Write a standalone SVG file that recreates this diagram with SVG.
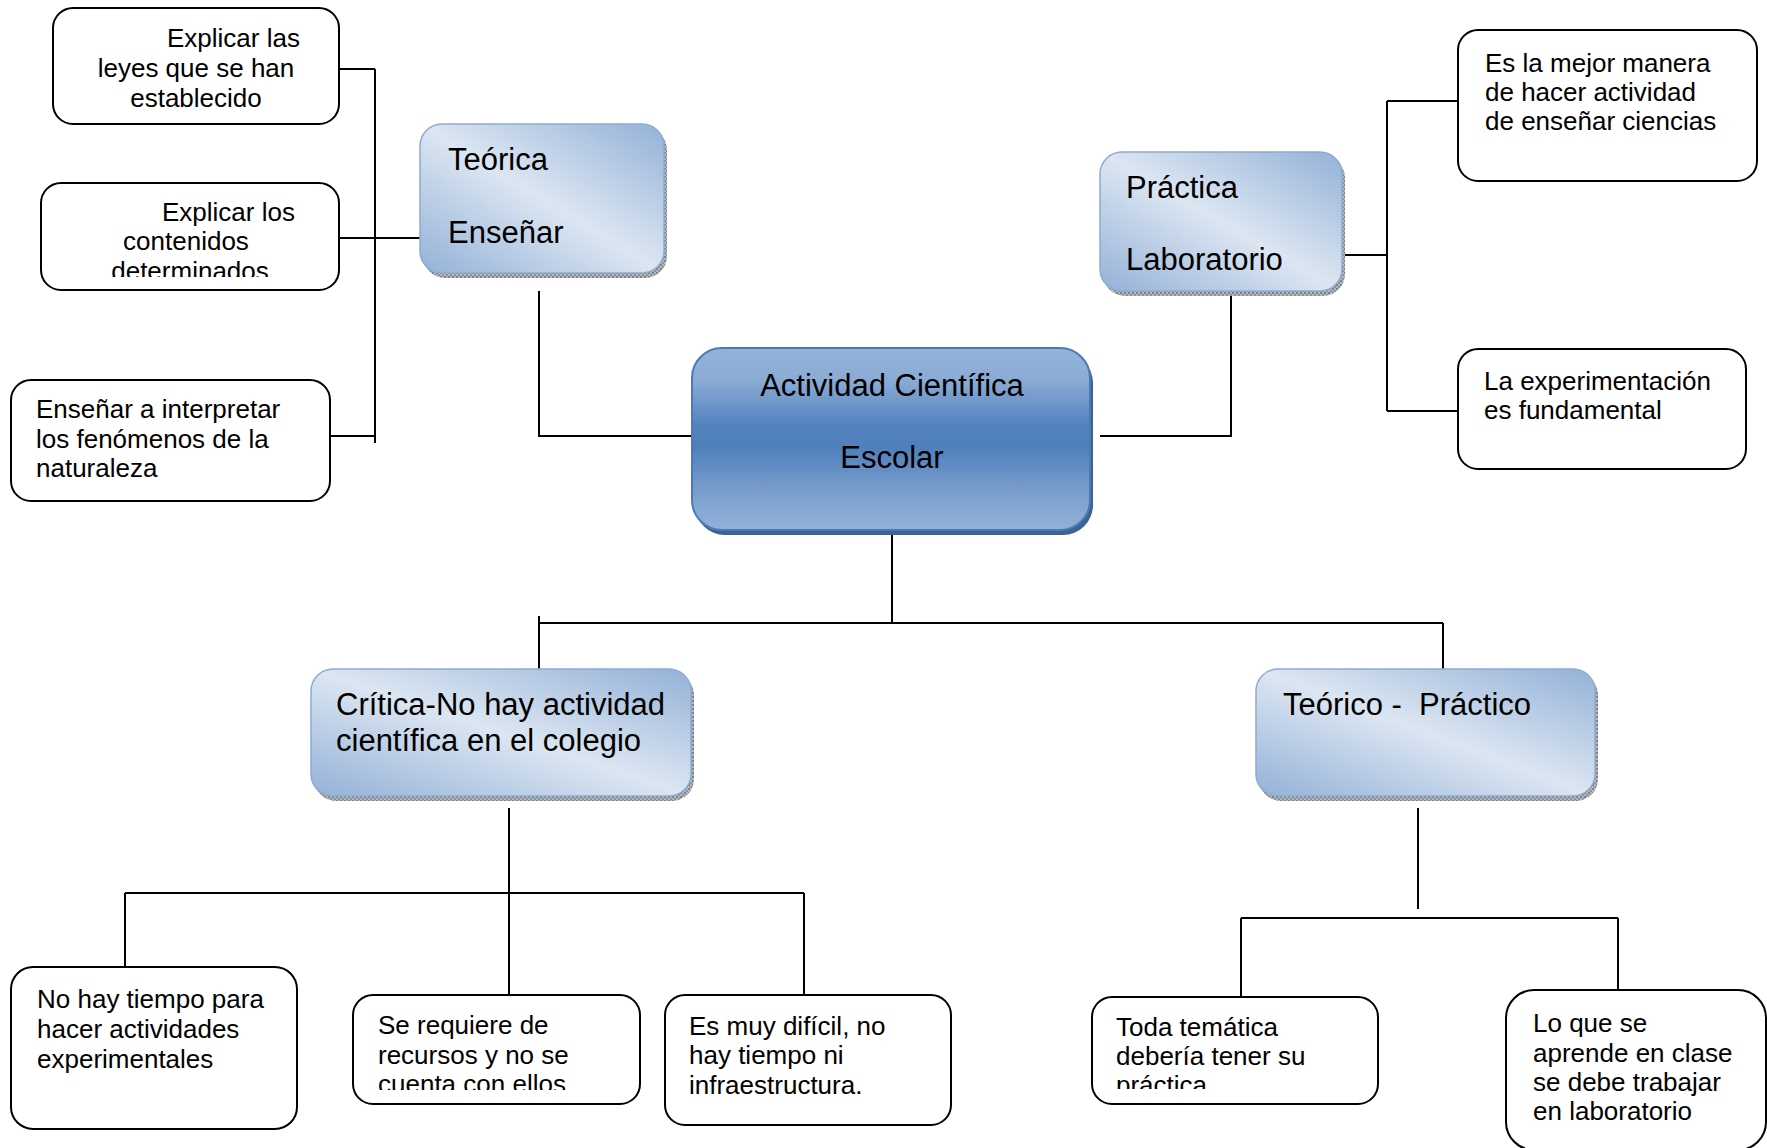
<svg xmlns="http://www.w3.org/2000/svg" width="1767" height="1148" viewBox="0 0 1767 1148">
  <defs>
    <linearGradient id="soft" x1="0" y1="1" x2="1" y2="0">
      <stop offset="0" stop-color="#93b1d7"/>
      <stop offset="0.5" stop-color="#dce6f2"/>
      <stop offset="1" stop-color="#93b1d7"/>
    </linearGradient>
    <linearGradient id="deep" x1="0" y1="0" x2="0" y2="1">
      <stop offset="0" stop-color="#95b3d9"/>
      <stop offset="0.18" stop-color="#8aabd4"/>
      <stop offset="0.42" stop-color="#5383bf"/>
      <stop offset="0.55" stop-color="#4f80bc"/>
      <stop offset="0.78" stop-color="#799dcc"/>
      <stop offset="1" stop-color="#93b1d8"/>
    </linearGradient>
    <pattern id="hatch" width="4" height="4" patternUnits="userSpaceOnUse">
      <rect width="4" height="4" fill="#b4b8bd"/>
      <rect width="2" height="2" fill="#7d8289"/>
      <rect x="2" y="2" width="2" height="2" fill="#8d9299"/>
    </pattern>
    <clipPath id="clipB"><rect x="41" y="183" width="298" height="94"/></clipPath>
    <clipPath id="clipF2"><rect x="353" y="995" width="287" height="95"/></clipPath>
    <clipPath id="clipG1"><rect x="1092" y="997" width="286" height="92"/></clipPath>
  </defs>
  <style>
    .box { fill: #ffffff; stroke: #000000; stroke-width: 2; }
    .soft { fill: url(#soft); stroke: #8eabd3; stroke-width: 1.5; }
    .softshadow { fill: url(#hatch); }
    .deep { fill: url(#deep); stroke: #4a7bb8; stroke-width: 2; }
    .deepshadow { fill: #3d6391; }
    .sm { font-family: "Liberation Sans", Arial, sans-serif; font-size: 26px; fill: #000; }
    .lg { font-family: "Liberation Sans", Arial, sans-serif; font-size: 31px; fill: #000; white-space: pre; }
    .mid { text-anchor: middle; }
    .wire { fill: none; stroke: #000000; stroke-width: 2; }
  </style>

  <rect width="1767" height="1148" fill="#ffffff"/>

  <!-- connectors -->
  <g id="connectors" class="wire">
    <!-- left bracket for Teórica -->
    <path d="M375 69 V443"/>
    <path d="M339 69 H375"/>
    <path d="M339 238 H420"/>
    <path d="M330 436 H375"/>
    <!-- Teórica to centre -->
    <path d="M539 291 V436 H692"/>
    <!-- Práctica to centre -->
    <path d="M1231 291 V436 H1100"/>
    <!-- right bracket for Práctica -->
    <path d="M1342 255 H1387"/>
    <path d="M1387 101 V411"/>
    <path d="M1387 101 H1458"/>
    <path d="M1387 411 H1458"/>
    <!-- centre downwards -->
    <path d="M892 532 V623"/>
    <path d="M539 623 H1443"/>
    <path d="M539 616 V669"/>
    <path d="M1443 623 V669"/>
    <!-- Crítica branch -->
    <path d="M509 808 V995"/>
    <path d="M125 893 H804"/>
    <path d="M125 893 V967"/>
    <path d="M804 893 V995"/>
    <!-- Teórico - Práctico branch -->
    <path d="M1418 808 V909"/>
    <path d="M1241 918 H1618"/>
    <path d="M1241 918 V997"/>
    <path d="M1618 918 V990"/>
  </g>

  <!-- left leaves -->
  <g id="leyes">
    <rect class="box" x="53" y="8" width="286" height="116" rx="20"/>
    <text class="sm" x="167" y="47">Explicar las</text>
    <text class="sm mid" x="196" y="77">leyes que se han</text>
    <text class="sm mid" x="196" y="107">establecido</text>
  </g>
  <g id="contenidos">
    <rect class="box" x="41" y="183" width="298" height="107" rx="20"/>
    <g clip-path="url(#clipB)">
      <text class="sm" x="162" y="221">Explicar los</text>
      <text class="sm mid" x="186" y="250">contenidos</text>
      <text class="sm mid" x="190" y="280">determinados</text>
    </g>
  </g>
  <g id="fenomenos">
    <rect class="box" x="11" y="380" width="319" height="121" rx="20"/>
    <text class="sm" x="36" y="418">Enseñar a interpretar</text>
    <text class="sm" x="36" y="448">los fenómenos de la</text>
    <text class="sm" x="36" y="477">naturaleza</text>
  </g>

  <!-- Teórica -->
  <g id="teorica">
    <rect class="softshadow" x="423" y="128" width="244" height="150" rx="22"/>
    <rect class="soft" x="420" y="124" width="244" height="149" rx="22"/>
    <text class="lg" x="448" y="170">Teórica</text>
    <text class="lg" x="448" y="243">Enseñar</text>
  </g>

  <!-- Práctica -->
  <g id="practica">
    <rect class="softshadow" x="1103" y="156" width="242" height="140" rx="22"/>
    <rect class="soft" x="1100" y="152" width="242" height="139" rx="22"/>
    <text class="lg" x="1126" y="198">Práctica</text>
    <text class="lg" x="1126" y="270">Laboratorio</text>
  </g>

  <!-- right leaves -->
  <g id="mejor-manera">
    <rect class="box" x="1458" y="30" width="299" height="151" rx="20"/>
    <text class="sm" x="1485" y="72">Es la mejor manera</text>
    <text class="sm" x="1485" y="101">de hacer actividad</text>
    <text class="sm" x="1485" y="130">de enseñar ciencias</text>
  </g>
  <g id="experimentacion">
    <rect class="box" x="1458" y="349" width="288" height="120" rx="20"/>
    <text class="sm" x="1484" y="390">La experimentación</text>
    <text class="sm" x="1484" y="419">es fundamental</text>
  </g>

  <!-- central node -->
  <g id="actividad">
    <rect class="deepshadow" x="695" y="353" width="398" height="182" rx="30"/>
    <rect class="deep" x="692" y="348" width="398" height="182" rx="30"/>
    <text class="lg mid" x="892" y="396">Actividad Científica</text>
    <text class="lg mid" x="892" y="468">Escolar</text>
  </g>

  <!-- Crítica -->
  <g id="critica">
    <rect class="softshadow" x="314" y="673" width="380" height="128" rx="22"/>
    <rect class="soft" x="311" y="669" width="380" height="127" rx="22"/>
    <text class="lg" x="336" y="715">Crítica-No hay actividad</text>
    <text class="lg" x="336" y="751">científica en el colegio</text>
  </g>

  <!-- Teórico - Práctico -->
  <g id="teorico-practico">
    <rect class="softshadow" x="1259" y="673" width="339" height="128" rx="22"/>
    <rect class="soft" x="1256" y="669" width="339" height="127" rx="22"/>
    <text class="lg" x="1283" y="715">Teórico -  Práctico</text>
  </g>

  <!-- bottom leaves -->
  <g id="no-tiempo">
    <rect class="box" x="11" y="967" width="286" height="162" rx="22"/>
    <text class="sm" x="37" y="1008">No hay tiempo para</text>
    <text class="sm" x="37" y="1038">hacer actividades</text>
    <text class="sm" x="37" y="1068">experimentales</text>
  </g>
  <g id="recursos">
    <rect class="box" x="353" y="995" width="287" height="109" rx="20"/>
    <g clip-path="url(#clipF2)">
      <text class="sm" x="378" y="1034">Se requiere de</text>
      <text class="sm" x="378" y="1064">recursos y no se</text>
      <text class="sm" x="378" y="1093">cuenta con ellos</text>
    </g>
  </g>
  <g id="dificil">
    <rect class="box" x="665" y="995" width="286" height="130" rx="20"/>
    <text class="sm" x="689" y="1035">Es muy difícil, no</text>
    <text class="sm" x="689" y="1064">hay tiempo ni</text>
    <text class="sm" x="689" y="1094">infraestructura.</text>
  </g>
  <g id="tematica">
    <rect class="box" x="1092" y="997" width="286" height="107" rx="20"/>
    <g clip-path="url(#clipG1)">
      <text class="sm" x="1116" y="1036">Toda temática</text>
      <text class="sm" x="1116" y="1065">debería tener su</text>
      <text class="sm" x="1116" y="1094">práctica</text>
    </g>
  </g>
  <g id="laboratorio">
    <rect class="box" x="1506" y="990" width="260" height="160" rx="28"/>
    <text class="sm" x="1533" y="1032">Lo que se</text>
    <text class="sm" x="1533" y="1062">aprende en clase</text>
    <text class="sm" x="1533" y="1091">se debe trabajar</text>
    <text class="sm" x="1533" y="1120">en laboratorio</text>
  </g>
</svg>
